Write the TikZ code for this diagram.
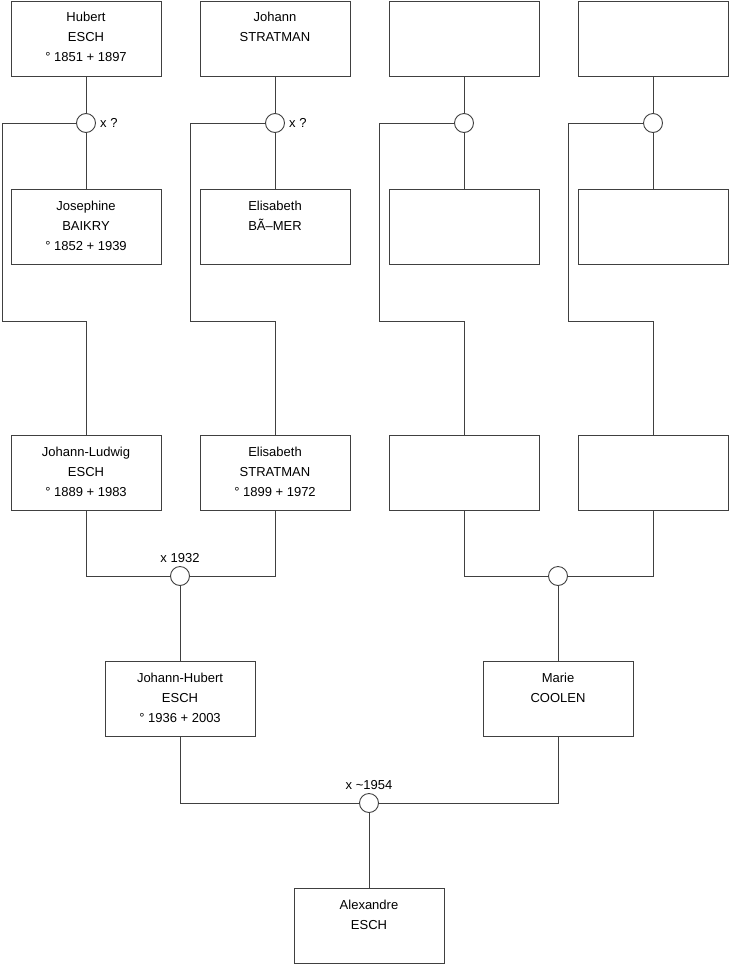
\documentclass[tikz,border=0pt]{standalone}
\usepackage{fontspec}
\setmainfont{Liberation Sans}
\usetikzlibrary{positioning}

\begin{document}
\begin{tikzpicture}[x=1pt, y=-1pt, line join=miter,
    person/.style={draw=black!75, line width=0.9pt, minimum width=150pt, minimum height=75pt, inner sep=0pt},
    info/.style={anchor=north, align=center, inner sep=0pt, font=\fontsize{13}{20}\selectfont},
    union/.style={circle, draw=black!75, line width=0.9pt, fill=white, minimum size=19pt, inner sep=0pt},
    note/.style={inner sep=0pt, font=\fontsize{13}{15}\selectfont},
    link/.style={draw=black!75, line width=0.9pt}]

  \useasboundingbox (0,0) rectangle (740,975);

  % generation 1
  \node[person] (hubert)    at (86,38.5)  {};
  \node[person] (johann)    at (275,38.5) {};
  \node[person] (anc3)      at (464,38.5) {};
  \node[person] (anc5)      at (653,38.5) {};
  \node[person] (josephine) at (86,227)   {};
  \node[person] (elisabethb) at (275,227) {};
  \node[person] (anc4)      at (464,227)  {};
  \node[person] (anc6)      at (653,227)  {};

  % generation 2
  \node[person] (ludwig)    at (86,473)   {};
  \node[person] (elisabeths) at (275,473) {};
  \node[person] (anc1)      at (464,473)  {};
  \node[person] (anc2)      at (653,473)  {};

  % generation 3 and 4
  \node[person] (jhubert)   at (180,699)  {};
  \node[person] (marie)     at (558,699)  {};
  \node[person] (alexandre) at (369,926)  {};

  % texts
  \node[info] at ([yshift=-11.5pt]hubert.north)     {Hubert\\ESCH\\° 1851 + 1897};
  \node[info] at ([yshift=-11.5pt]johann.north)     {Johann\\STRATMAN};
  \node[info] at ([yshift=-11.5pt]josephine.north)  {Josephine\\BAIKRY\\° 1852 + 1939};
  \node[info] at ([yshift=-11.5pt]elisabethb.north) {Elisabeth\\BÃ–MER};
  \node[info] at ([yshift=-11.5pt]ludwig.north)     {Johann-Ludwig\\ESCH\\° 1889 + 1983};
  \node[info] at ([yshift=-11.5pt]elisabeths.north) {Elisabeth\\STRATMAN\\° 1899 + 1972};
  \node[info] at ([yshift=-11.5pt]jhubert.north)    {Johann-Hubert\\ESCH\\° 1936 + 2003};
  \node[info] at ([yshift=-11.5pt]marie.north)      {Marie\\COOLEN};
  \node[info] at ([yshift=-11.5pt]alexandre.north)  {Alexandre\\ESCH};

  % unions
  \node[union] (u1) at (86,123)  {};
  \node[union] (u2) at (275,123) {};
  \node[union] (u3) at (464,123) {};
  \node[union] (u4) at (653,123) {};
  \node[union] (u5) at (180,576) {};
  \node[union] (u6) at (558,576) {};
  \node[union] (u7) at (369,803) {};

  \node[note, right=4pt of u1] {x ?};
  \node[note, right=4pt of u2] {x ?};
  \node[note, above=3pt of u5] {x 1932};
  \node[note, above=3pt of u7] {x \textasciitilde1954};

  \coordinate (k1) at (2,321);
  \coordinate (k2) at (190,321);
  \coordinate (k3) at (379,321);
  \coordinate (k4) at (568,321);

  % links
  \draw[link] (hubert) -- (u1) -- (josephine);
  \draw[link] (johann) -- (u2) -- (elisabethb);
  \draw[link] (anc3) -- (u3) -- (anc4);
  \draw[link] (anc5) -- (u4) -- (anc6);

  \draw[link] (u1.west) -| (k1) -| (ludwig);
  \draw[link] (u2.west) -| (k2) -| (elisabeths);
  \draw[link] (u3.west) -| (k3) -| (anc1);
  \draw[link] (u4.west) -| (k4) -| (anc2);

  \draw[link] (ludwig) |- (u5);
  \draw[link] (elisabeths) |- (u5);
  \draw[link] (anc1) |- (u6);
  \draw[link] (anc2) |- (u6);
  \draw[link] (u5) -- (jhubert);
  \draw[link] (u6) -- (marie);

  \draw[link] (jhubert) |- (u7);
  \draw[link] (marie) |- (u7);
  \draw[link] (u7) -- (alexandre);
\end{tikzpicture}
\end{document}
